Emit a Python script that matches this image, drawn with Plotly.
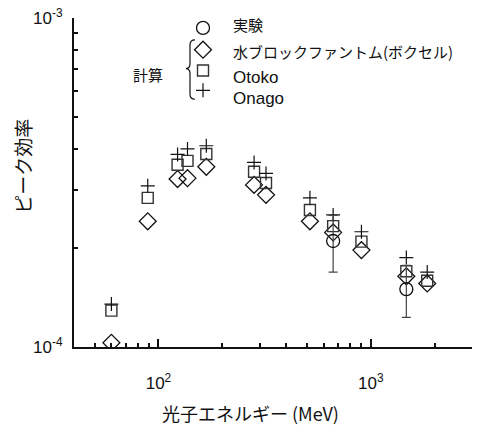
import plotly.graph_objects as go

# ---- data ----
energy_calc = [60, 89, 123, 137, 168, 282, 321, 517, 665, 904, 1471, 1845]
water = [1.03e-4, 2.41e-4, 3.24e-4, 3.26e-4, 3.53e-4, 3.11e-4, 2.90e-4, 2.41e-4, 2.23e-4, 1.97e-4, 1.64e-4, 1.56e-4]
otoko = [1.29e-4, 2.84e-4, 3.58e-4, 3.68e-4, 3.86e-4, 3.41e-4, 3.15e-4, 2.61e-4, 2.33e-4, 2.09e-4, 1.70e-4, 1.59e-4]
onago = [1.35e-4, 3.09e-4, 3.85e-4, 4.00e-4, 4.09e-4, 3.64e-4, 3.37e-4, 2.84e-4, 2.52e-4, 2.24e-4, 1.87e-4, 1.69e-4]
energy_exp = [665, 1471]
experiment = [2.10e-4, 1.50e-4]
experiment_err = [0.41e-4, 0.27e-4]

legend_labels = ["実験", "水ブロックファントム(ボクセル)", "Otoko", "Onago"]
calc_label = "計算"
x_title = "光子エネルギー (MeV)"
y_title = "ピーク効率"

FONT = "Liberation Sans, Arial, Noto Sans CJK JP"
JP = "Noto Sans CJK JP, Liberation Sans"
INK = "#111"

styles = [
    dict(symbol="circle-open", size=13, color=INK, line=dict(width=1.3, color=INK)),
    dict(symbol="diamond-open", size=13, color=INK, line=dict(width=1.3, color=INK)),
    dict(symbol="square-open", size=11, color="#333", line=dict(width=1.4, color="#333")),
    dict(symbol="cross-thin-open", size=10, color=INK, line=dict(width=1.2, color=INK)),
]

fig = go.Figure()
fig.add_trace(go.Scatter(x=energy_calc, y=water, mode="markers", marker=styles[1], showlegend=False))
fig.add_trace(go.Scatter(x=energy_calc, y=otoko, mode="markers", marker=styles[2], showlegend=False))
fig.add_trace(go.Scatter(x=energy_calc, y=onago, mode="markers", marker=styles[3], showlegend=False))
fig.add_trace(go.Scatter(x=energy_exp, y=experiment, mode="markers", marker=styles[0],
                         error_y=dict(type="data", array=experiment_err, color="#444", thickness=1.2, width=4.5),
                         showlegend=False))

# ---- custom legend in a pixel overlay ----
leg_x = 203
leg_y = [25, 47, 68, 88]
text_y = [22, 49, 75, 96]
for s, yy in zip(styles, leg_y):
    fig.add_trace(go.Scatter(x=[leg_x], y=[yy], mode="markers", marker=s,
                             xaxis="x2", yaxis="y2", showlegend=False, hoverinfo="skip"))
for lab, yy in zip(legend_labels, text_y):
    is_jp = lab[0] > "z"
    fig.add_annotation(x=231, y=yy, xref="x2", yref="y2", text=lab, showarrow=False,
                       xanchor="left", yanchor="middle",
                       font=dict(family=JP if is_jp else FONT, size=15 if is_jp else 17, color=INK))
fig.add_annotation(x=148, y=72, xref="x2", yref="y2", text=calc_label, showarrow=False,
                   xanchor="center", yanchor="middle", font=dict(family=JP, size=15, color=INK))
fig.add_shape(type="path", xref="x2", yref="y2",
              path="M 195 37 Q 190 37 190 42 L 190 61 Q 190 66 186 66 Q 190 66 190 71 L 190 92 Q 190 97 195 97",
              line=dict(color=INK, width=1.2))

# axis titles placed as annotations in paper coordinates
L, R, T, B = 74, 472, 15, 347
def px(x):
    return (x - L) / (R - L)
def py(y):
    return (B - y) / (B - T)

fig.add_annotation(x=px(250), y=py(414), xref="paper", yref="paper", text=x_title, showarrow=False,
                   xanchor="center", yanchor="middle", font=dict(family=JP, size=18, color=INK))
fig.add_annotation(x=px(23), y=py(165), xref="paper", yref="paper", text=y_title, showarrow=False,
                   textangle=-90, xanchor="center", yanchor="middle",
                   font=dict(family=JP, size=19, color=INK))

fig.update_layout(
    width=478, height=438,
    margin=dict(l=74, r=6, t=15, b=91),
    plot_bgcolor="white", paper_bgcolor="white",
    font=dict(family=FONT, size=17, color=INK),
    xaxis=dict(type="log", range=[1.602, 3.477], showline=True, linewidth=2, linecolor=INK,
               showgrid=False, zeroline=False, ticks="inside", ticklen=8, tickwidth=2, tickcolor=INK,
               tickvals=[100, 1000], ticktext=["10<sup>2</sup>", "10<sup>3</sup>"],
               ticklabelstandoff=20,
               minor=dict(ticks="inside", ticklen=4, tickwidth=2, tickcolor=INK,
                          tickvals=[50, 60, 70, 80, 90, 200, 300, 400, 500, 600, 700, 800, 900, 2000], showgrid=False)),
    yaxis=dict(type="log", range=[-4, -3], showline=True, linewidth=2, linecolor=INK,
               showgrid=False, zeroline=False, ticks="inside", ticklen=5, tickwidth=2, tickcolor=INK,
               tickvals=[1e-4, 1e-3], ticktext=["10<sup>-4</sup>", "10<sup>-3</sup>"],
               ticklabelstandoff=6,
               minor=dict(ticks="inside", ticklen=4, tickwidth=2, tickcolor=INK,
                          tickvals=[2e-4, 3e-4, 4e-4, 5e-4, 6e-4, 7e-4, 8e-4, 9e-4], showgrid=False)),
    xaxis2=dict(overlaying="x", range=[74, 472], visible=False, fixedrange=True),
    yaxis2=dict(overlaying="y", range=[347, 15], visible=False, fixedrange=True),
)

fig.write_html("out.html")
